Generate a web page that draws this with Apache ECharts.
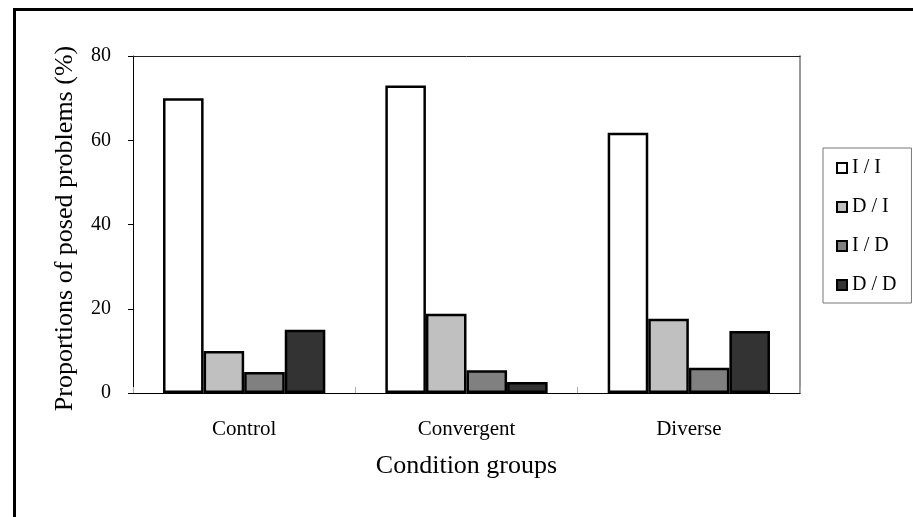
<!DOCTYPE html>
<html>
<head>
<meta charset="utf-8">
<script src="https://cdn.jsdelivr.net/npm/echarts@6/dist/echarts.min.js"></script>
<style>html,body{margin:0;padding:0;background:#fff;}#c{width:913px;height:517px;}</style>
</head>
<body>
<div id="c"></div>
<script>
var categories = ['Control', 'Convergent', 'Diverse'];
var seriesNames = ['I / I', 'D / I', 'I / D', 'D / D'];
var valuesII = [70, 73, 61.8];
var valuesDI = [10, 18.8, 17.6];
var valuesID = [5, 5.4, 6];
var valuesDD = [15, 2.6, 14.7];
var yTicks = [0, 20, 40, 60, 80];
var colors = ['#ffffff', '#c0c0c0', '#808080', '#333333'];
var allValues = [valuesII, valuesDI, valuesID, valuesDD];

var font = 'Liberation Serif';
var chart = echarts.init(document.getElementById('c'), null, {renderer: 'canvas'});
var series = seriesNames.map(function (n, i) {
  return {
    name: n, type: 'bar', data: allValues[i],
    barGap: '0%', barCategoryGap: '27%',
    itemStyle: {color: colors[i], borderColor: '#000', borderWidth: 2.5},
    emphasis: {disabled: true}, xAxisIndex: 0, yAxisIndex: 0
  };
});
chart.setOption({
  animation: false,
  backgroundColor: '#fff',
  textStyle: {fontFamily: font, color: '#000'},
  grid: {left: 133, right: 113, top: 56, bottom: 124, show: false},
  legend: {
    orient: 'vertical', left: 823, top: 148,
    padding: [10, 15, 8, 13], itemGap: 19, itemWidth: 10, itemHeight: 10, itemTextGap: 4,
    borderColor: '#777', borderWidth: 1, icon: 'rect',
    itemStyle: {borderColor: '#000', borderWidth: 2},
    textStyle: {fontFamily: font, fontSize: 20, color: '#000'},
    data: seriesNames
  },
  xAxis: [{
    type: 'category', data: categories, position: 'bottom',
    axisLine: {lineStyle: {color: '#000', width: 1}},
    axisTick: {show: true, inside: true, length: 6, lineStyle: {color: '#aaa', width: 1}},
    axisLabel: {fontFamily: font, fontSize: 21, color: '#000', margin: 26},
    name: 'Condition groups', nameLocation: 'middle', nameGap: 60,
    nameTextStyle: {fontFamily: font, fontSize: 26, color: '#000'}
  }, {
    type: 'category', data: categories, position: 'top',
    axisLine: {show: true, onZero: false, lineStyle: {color: '#222', width: 1}},
    axisTick: {show: false}, axisLabel: {show: false}
  }],
  yAxis: [{
    type: 'value', min: 0, max: 80, interval: 20, position: 'left',
    axisLine: {show: true, lineStyle: {color: '#000', width: 1}},
    axisTick: {show: true, length: 5, lineStyle: {color: '#000'}},
    splitLine: {show: false},
    axisLabel: {fontFamily: font, fontSize: 20, color: '#000', margin: 22,
      formatter: function (v) { return yTicks.indexOf(v) >= 0 ? String(v) : ''; }},
    name: 'Proportions of posed problems (%)', nameLocation: 'middle', nameGap: 55,
    nameTextStyle: {fontFamily: font, fontSize: 26, color: '#000', padding: [0, 8, 0, 0]}
  }, {
    type: 'value', min: 0, max: 80, interval: 20, position: 'right',
    axisLine: {show: true, onZero: false, lineStyle: {color: '#999', width: 2}},
    axisTick: {show: false}, axisLabel: {show: false}, splitLine: {show: false}
  }],
  series: series,
  graphic: [{
    type: 'rect', left: 12, top: 7, silent: true, z: 100,
    shape: {x: 0, y: 0, width: 1000, height: 600},
    style: {fill: null, stroke: '#000', lineWidth: 3}
  }]
});
</script>
</body>
</html>
